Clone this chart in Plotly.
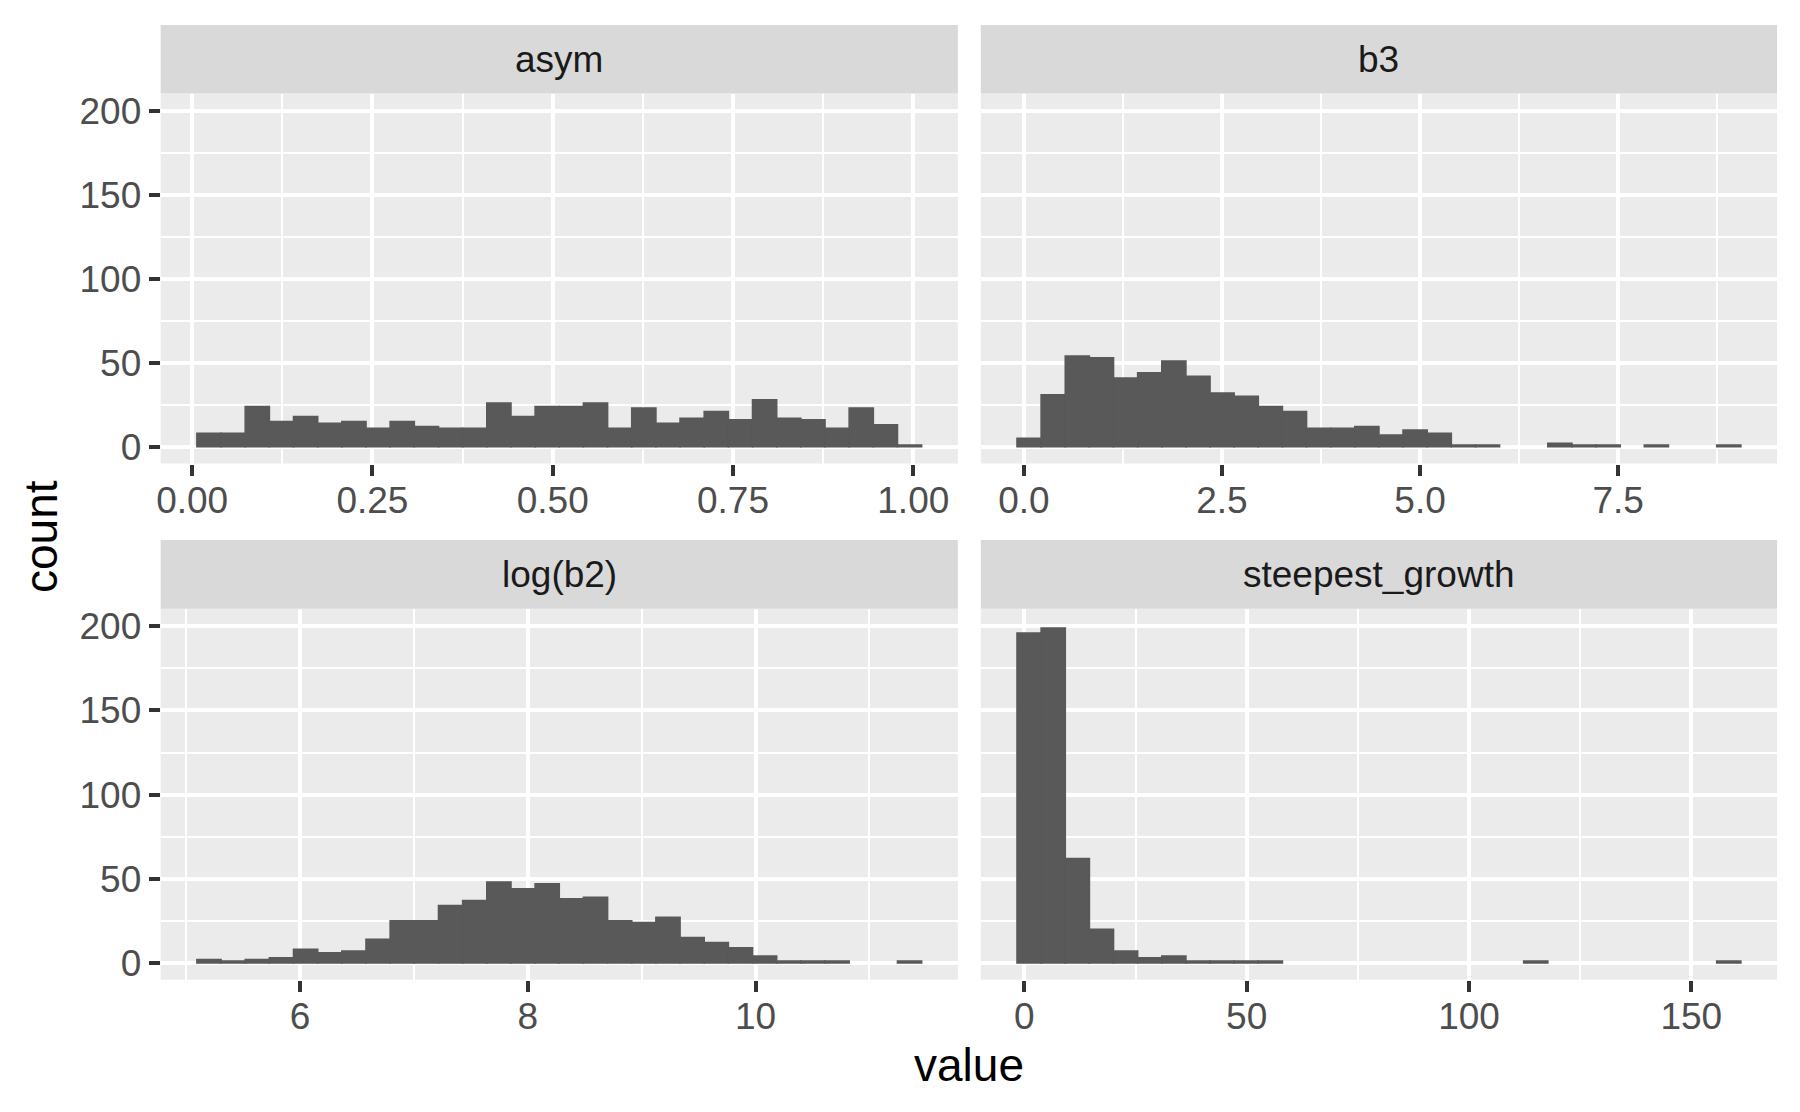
import numpy as np
import plotly.graph_objects as go

# ---------------- data ----------------
facets = ["asym", "b3", "log(b2)", "steepest_growth"]

asym_start = 0.0066
asym_width = 0.0335
asym_counts = [8, 8, 24, 15, 18, 14, 15, 11, 15, 12, 11, 11, 26, 18, 24,
               24, 26, 11, 23, 14, 17, 21, 16, 28, 17, 16, 11, 23, 13, 1]

b3_start = -0.0866
b3_width = 0.3045
b3_counts = [5, 31, 54, 53, 41, 44, 51, 42, 32, 30, 24, 21, 11, 11, 12,
             7, 10, 8, 1, 1, 0, 0, 2, 1, 1, 0, 1, 0, 0, 1]

logb2_start = 5.095
logb2_width = 0.2121
logb2_counts = [2, 1, 2, 3, 8, 6, 7, 14, 25, 25, 34, 37, 48, 44, 47,
                38, 39, 25, 24, 27, 15, 12, 9, 4, 1, 1, 1, 0, 0, 1]

steep_start = -1.663
steep_width = 5.427
steep_counts = [196, 199, 62, 20, 7, 3, 4, 1, 1, 1, 1, 0, 0, 0, 0,
                0, 0, 0, 0, 0, 0, 1, 0, 0, 0, 0, 0, 0, 0, 1]

asym_ticks = [0.0, 0.25, 0.5, 0.75, 1.0]
asym_ticktext = ["0.00", "0.25", "0.50", "0.75", "1.00"]
asym_minor = [0.125, 0.375, 0.625, 0.875]
b3_ticks = [0.0, 2.5, 5.0, 7.5]
b3_ticktext = ["0.0", "2.5", "5.0", "7.5"]
b3_minor = [1.25, 3.75, 6.25, 8.75]
logb2_ticks = [6, 8, 10]
logb2_ticktext = ["6", "8", "10"]
logb2_minor = [5, 7, 9, 11]
steep_ticks = [0, 50, 100, 150]
steep_ticktext = ["0", "50", "100", "150"]
steep_minor = [25, 75, 125]

y_ticks = [0, 50, 100, 150, 200]
y_ticktext = ["0", "50", "100", "150", "200"]
y_minor = [25, 75, 125, 175]

x_title = "value"
y_title = "count"

# ---------------- layout geometry ----------------
# the page body has an 8px default margin, so the figure is drawn 8px in
OFF = 8
W, H = 1800 - 2 * OFF, 1112 - 2 * OFF
FONT = "Liberation Sans, Arial, sans-serif"
cols = [(157, 956), (979, 1777)]        # window px
rows = [(92, 464), (610, 983)]          # plot area top/bottom (window px)
strips = [(23, 92), (541, 610)]


def px_x(v):
    return (v - OFF) / W


def px_y(v):
    return 1 - (v - OFF) / H


panels = [
    (asym_start, asym_width, asym_counts, asym_ticks, asym_ticktext, asym_minor),
    (b3_start, b3_width, b3_counts, b3_ticks, b3_ticktext, b3_minor),
    (logb2_start, logb2_width, logb2_counts, logb2_ticks, logb2_ticktext, logb2_minor),
    (steep_start, steep_width, steep_counts, steep_ticks, steep_ticktext, steep_minor),
]

fig = go.Figure()
layout = dict(
    width=W, height=H,
    margin=dict(l=0, r=0, t=0, b=0),
    paper_bgcolor="white",
    plot_bgcolor="#EBEBEB",
    showlegend=False,
    font=dict(family=FONT, color="#4D4D4D", size=37),
    shapes=[], annotations=[],
)

y_range = [-10.0, 210.5]

for i, (start, width, counts, ticks, ticktext, minor) in enumerate(panels):
    r, c = divmod(i, 2)
    n = len(counts)
    counts_arr = np.array(counts)
    centers = start + width * (np.arange(n) + 0.5)
    keep = counts_arr > 0
    xname = "x" if i == 0 else f"x{i+1}"
    yname = "y" if i == 0 else f"y{i+1}"
    fig.add_trace(go.Bar(
        x=centers[keep], y=counts_arr[keep], width=width,
        marker=dict(color="#595959", line=dict(width=1.6, color="#595959")),
        xaxis=xname, yaxis=yname, hoverinfo="x+y",
    ))
    lo = start
    hi = start + width * n
    pad = 0.05 * (hi - lo)
    xkey = "xaxis" if i == 0 else f"xaxis{i+1}"
    ykey = "yaxis" if i == 0 else f"yaxis{i+1}"
    layout[xkey] = dict(
        domain=[px_x(cols[c][0]), px_x(cols[c][1])],
        anchor=yname,
        range=[lo - pad, hi + pad],
        tickmode="array", tickvals=ticks, ticktext=ticktext,
        ticks="outside", ticklen=11, tickwidth=4, tickcolor="#333333",
        ticklabelstandoff=-7,
        showgrid=True, gridcolor="white", gridwidth=4,
        minor=dict(tickmode="array", tickvals=minor, showgrid=True,
                   gridcolor="white", gridwidth=2, ticks=""),
        zeroline=False, showline=False,
        tickfont=dict(family=FONT, size=37, color="#4D4D4D"),
        fixedrange=True,
    )
    layout[ykey] = dict(
        domain=[px_y(rows[r][1]), px_y(rows[r][0])],
        anchor=xname,
        range=y_range,
        tickmode="array", tickvals=y_ticks, ticktext=y_ticktext,
        ticks="outside" if c == 0 else "",
        ticklen=11, tickwidth=4, tickcolor="#333333",
        showticklabels=(c == 0),
        showgrid=True, gridcolor="white", gridwidth=4,
        minor=dict(tickmode="array", tickvals=y_minor, showgrid=True,
                   gridcolor="white", gridwidth=2, ticks=""),
        zeroline=False, showline=False,
        tickfont=dict(family=FONT, size=37, color="#4D4D4D"),
        fixedrange=True,
    )
    # strip
    st, sb = strips[r]
    layout["shapes"].append(dict(
        type="rect", xref="paper", yref="paper",
        x0=px_x(cols[c][0]), x1=px_x(cols[c][1]),
        y0=px_y(sb), y1=px_y(st),
        fillcolor="#D9D9D9", line=dict(width=0), layer="below",
    ))
    layout["annotations"].append(dict(
        xref="paper", yref="paper",
        x=px_x((cols[c][0] + cols[c][1]) / 2), y=px_y((st + sb) / 2),
        text=facets[i], showarrow=False, xanchor="center", yanchor="middle",
        font=dict(family=FONT, size=37, color="#1A1A1A"),
    ))

layout["annotations"].append(dict(
    xref="paper", yref="paper", x=px_x(967), y=px_y(1069),
    text=x_title, showarrow=False, xanchor="center", yanchor="middle",
    font=dict(family=FONT, size=46, color="black"),
))
layout["annotations"].append(dict(
    xref="paper", yref="paper", x=px_x(37), y=px_y(537),
    text=y_title, showarrow=False, xanchor="center", yanchor="middle",
    textangle=-90, font=dict(family=FONT, size=46, color="black"),
))

fig.update_layout(**layout)
fig.write_html("out.html")
